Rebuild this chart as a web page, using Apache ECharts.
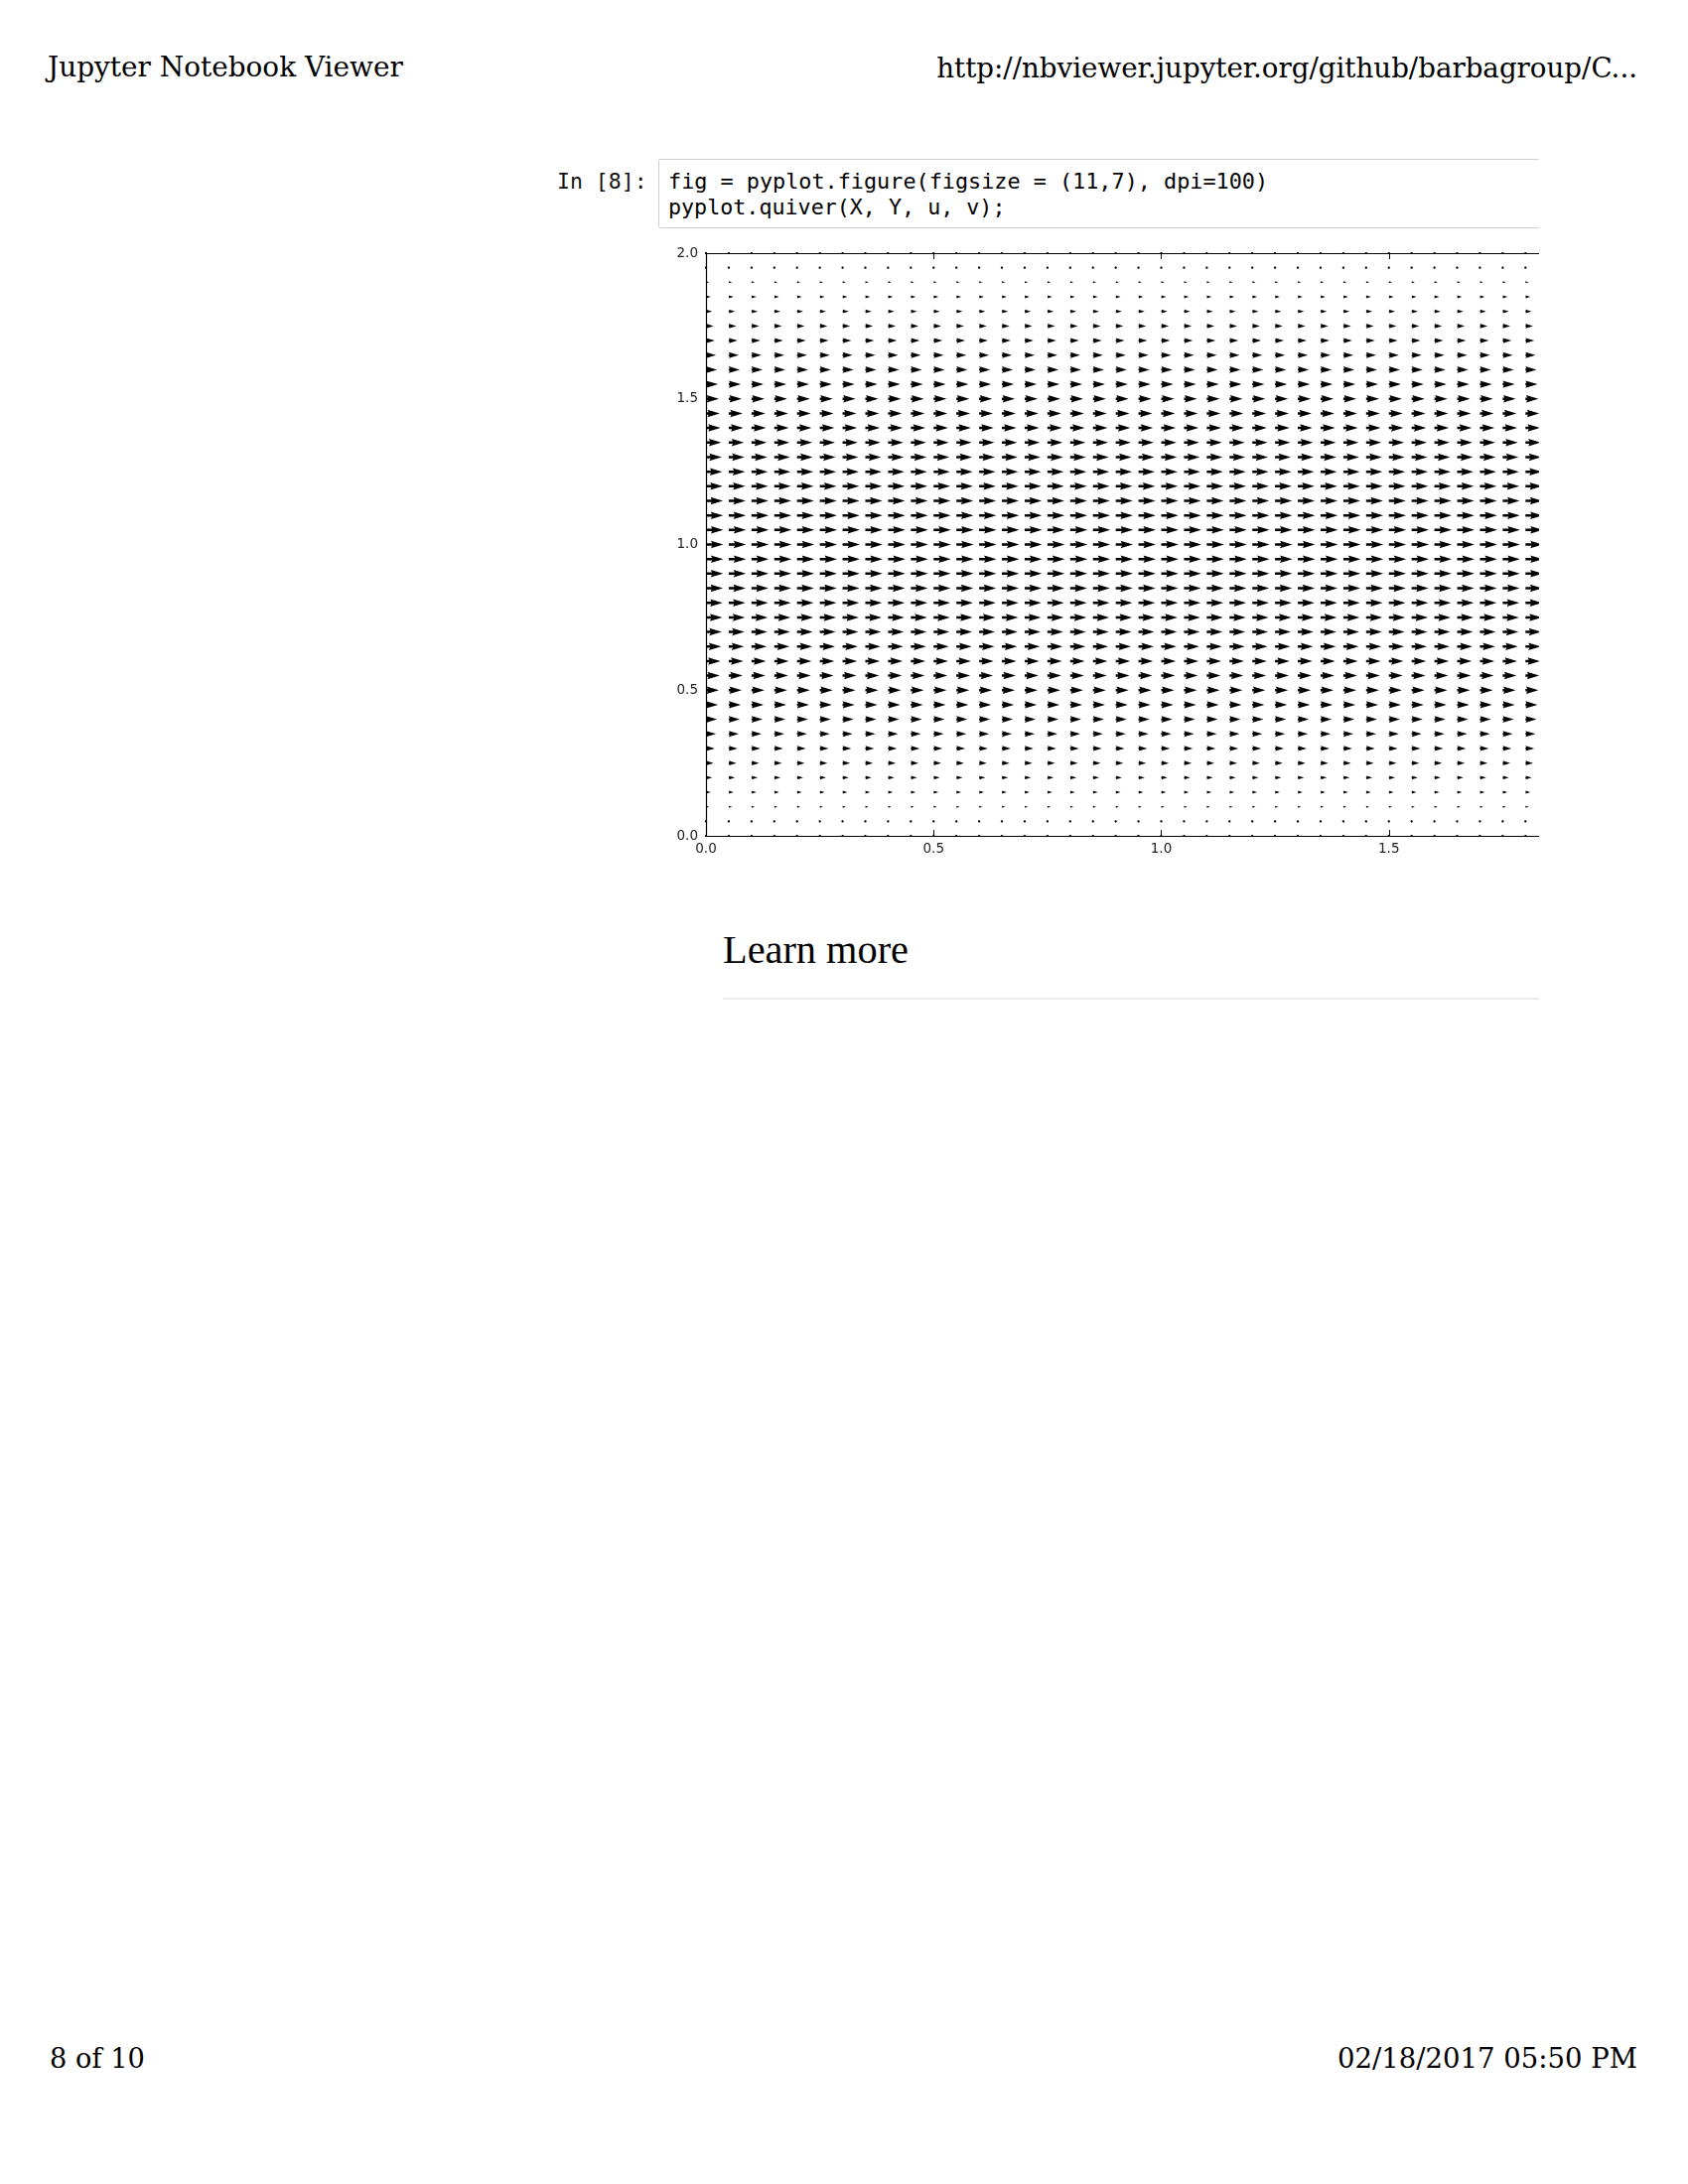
<!DOCTYPE html>
<html><head><meta charset="utf-8">
<script src="https://cdn.jsdelivr.net/npm/echarts@6/dist/echarts.min.js"></script>
<style>
html,body{margin:0;padding:0;background:#fff;}
body{width:1700px;height:2200px;position:relative;overflow:hidden;}
.t{position:absolute;white-space:nowrap;line-height:1;color:#000;}
#clip1{position:absolute;left:0;top:0;width:1550px;height:400px;overflow:hidden;}
#codebox{position:absolute;left:663px;top:160px;width:1000px;height:68px;border:1px solid #cfcfcf;border-radius:2px;background:#fff;}
#plotclip{position:absolute;left:600px;top:235px;width:950px;height:650px;overflow:hidden;}
#chart{position:absolute;left:0;top:0;width:1100px;height:650px;}
#rule{position:absolute;left:728px;top:1005px;width:822px;height:2px;background:#ececec;}
</style></head>
<body>
<div id="clip1"><div id="codebox"></div></div>
<div id="plotclip"><div id="chart"></div></div>
<div id="rule"></div>
<script>
// ---------------- data ----------------
const X_GRID = [0.00,0.05,0.10,0.15,0.20,0.25,0.30,0.35,0.40,0.45,0.50,0.55,0.60,0.65,0.70,0.75,0.80,0.85,0.90,0.95,1.00,
                1.05,1.10,1.15,1.20,1.25,1.30,1.35,1.40,1.45,1.50,1.55,1.60,1.65,1.70,1.75,1.80,1.85,1.90,1.95,2.00];
const Y_GRID = [0.00,0.05,0.10,0.15,0.20,0.25,0.30,0.35,0.40,0.45,0.50,0.55,0.60,0.65,0.70,0.75,0.80,0.85,0.90,0.95,1.00,
                1.05,1.10,1.15,1.20,1.25,1.30,1.35,1.40,1.45,1.50,1.55,1.60,1.65,1.70,1.75,1.80,1.85,1.90,1.95,2.00];
// u (relative) for each row of Y_GRID; arrows all point in +x (v ~ 0)
const U_PROFILE = [0.00,0.10,0.19,0.28,0.36,0.44,0.51,0.58,0.64,0.70,0.75,0.80,0.84,0.88,0.91,0.94,0.96,0.98,0.99,1.00,1.00,
                   1.00,0.99,0.98,0.96,0.94,0.91,0.88,0.84,0.80,0.75,0.70,0.64,0.58,0.51,0.44,0.36,0.28,0.19,0.10,0.00];
const X_TICKS = ['0.0','0.5','1.0','1.5','2.0'];
const Y_TICKS = ['0.0','0.5','1.0','1.5','2.0'];

// ---------------- page text ----------------
const SERIF = '"DejaVu Serif", serif';
const MONO = '"DejaVu Sans Mono", monospace';
function place(text, o) {
  const el = document.createElement('div');
  el.className = 't';
  el.textContent = text;
  el.style.fontFamily = o.family;
  el.style.fontSize = o.fs + 'px';
  if (o.color) el.style.color = o.color;
  document.body.appendChild(el);
  let fs = o.fs;
  if (o.width) {
    const w = el.getBoundingClientRect().width;
    fs = o.fs * o.width / w;
    el.style.fontSize = fs + 'px';
  }
  const w2 = el.getBoundingClientRect().width;
  el.style.left = (o.left !== undefined ? o.left : o.right - w2) + 'px';
  el.style.top = (o.baseline - (o.asc || 0.846) * fs) + 'px';
  return el;
}
place('Jupyter Notebook Viewer', {family: SERIF, fs: 27, left: 48, width: 358, baseline: 78});
place('http://nbviewer.jupyter.org/github/barbagroup/C...', {family: SERIF, fs: 27, right: 1649, width: 706, baseline: 78});
place('In [8]:', {family: MONO, fs: 21.5, left: 561, baseline: 190, color: '#111'});
place('fig = pyplot.figure(figsize = (11,7), dpi=100)', {family: MONO, fs: 21.7, left: 673, width: 604, baseline: 190});
place('pyplot.quiver(X, Y, u, v);', {family: MONO, fs: 21.7, left: 673, baseline: 216});
place('Learn more', {family: '"Liberation Serif", serif', fs: 40, left: 728, width: 187, baseline: 971, asc: 0.8375});
place('8 of 10', {family: SERIF, fs: 27.5, left: 50, width: 96, baseline: 2083});
place('02/18/2017 05:50 PM', {family: SERIF, fs: 27.5, right: 1649, width: 302, baseline: 2083});

// ---------------- quiver chart ----------------
const QSCALE = 0.038;   // x-axis units of arrow length per unit u
const SHAFT = 2.5;      // arrow shaft width in px
const quiverData = [];
for (let j = 0; j < Y_GRID.length; j++) {
  for (let i = 0; i < X_GRID.length; i++) {
    quiverData.push([X_GRID[i], Y_GRID[j], U_PROFILE[j]]);
  }
}

function renderArrow(params, api) {
  const p = api.coord([api.value(0), api.value(1)]);
  const Lpx = api.size([api.value(2) * QSCALE, 0])[0];
  const w = SHAFT;
  const L = Lpx / w;
  let pts;
  if (L < 1) {
    pts = [];
    for (let k = 0; k < 6; k++) {
      const th = k * Math.PI / 3;
      pts.push([Math.cos(th) * 0.5, Math.sin(th) * 0.5]);
    }
  } else if (L < 5) {
    const s = L / 5;
    pts = [[0,0.5],[0.5,0.5],[0,1.5],[5,0],[0,-1.5],[0.5,-0.5],[0,-0.5]].map(a => [a[0]*s, a[1]*s]);
  } else {
    pts = [[0,0.5],[L-4.5,0.5],[L-5,1.5],[L,0],[L-5,-1.5],[L-4.5,-0.5],[0,-0.5]];
  }
  return {
    type: 'polygon',
    shape: {points: pts.map(a => [p[0] + a[0]*w, p[1] - a[1]*w])},
    style: {fill: '#000'}
  };
}

const axisFont = {fontFamily: '"DejaVu Sans", sans-serif', fontSize: 13.5, color: '#222'};
const lineStyle = {color: '#000', width: 1.2};
const tickInside = {show: true, inside: true, length: 6, lineStyle: {color: '#000', width: 1}};

const chart = echarts.init(document.getElementById('chart'), null, {renderer: 'canvas'});
chart.setOption({
  animation: false,
  backgroundColor: 'transparent',
  grid: {left: 111, top: 20, width: 917, height: 587, containLabel: false},
  xAxis: [
    {type: 'value', min: 0, max: 2, interval: 0.5, position: 'bottom',
     axisLine: {show: true, onZero: false, lineStyle}, axisTick: tickInside, splitLine: {show: false},
     axisLabel: Object.assign({margin: 6, formatter: v => X_TICKS[Math.round(v / 0.5)]}, axisFont)},
    {type: 'value', min: 0, max: 2, interval: 0.5, position: 'top',
     axisLine: {show: true, onZero: false, lineStyle}, axisTick: tickInside, splitLine: {show: false},
     axisLabel: {show: false}}
  ],
  yAxis: [
    {type: 'value', min: 0, max: 2, interval: 0.5, position: 'left',
     axisLine: {show: true, onZero: false, lineStyle}, axisTick: tickInside, splitLine: {show: false},
     axisLabel: Object.assign({margin: 8, formatter: v => Y_TICKS[Math.round(v / 0.5)]}, axisFont)},
    {type: 'value', min: 0, max: 2, interval: 0.5, position: 'right',
     axisLine: {show: true, onZero: false, lineStyle}, axisTick: tickInside, splitLine: {show: false},
     axisLabel: {show: false}}
  ],
  series: [{
    type: 'custom',
    xAxisIndex: 0, yAxisIndex: 0,
    renderItem: renderArrow,
    data: quiverData,
    silent: true,
    z: 1
  }]
});
</script>
</body></html>
